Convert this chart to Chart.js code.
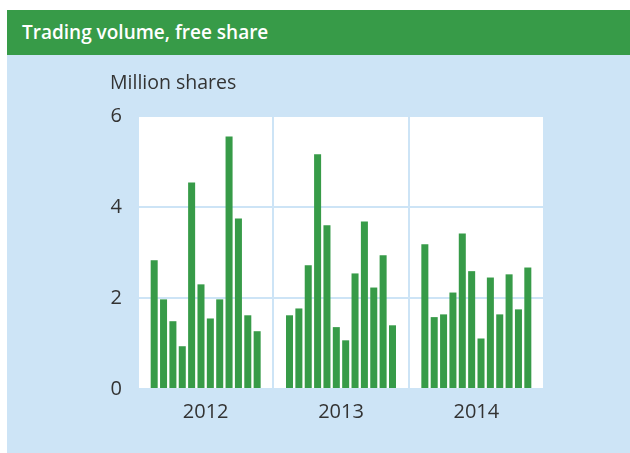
<!DOCTYPE html>
<html>
<head>
<meta charset="utf-8">
<script src="https://cdn.jsdelivr.net/npm/chart.js@4"></script>
<style>
  html, body { margin: 0; padding: 0; background: #fff; }
  #wrap { position: relative; width: 630px; height: 453px; overflow: hidden; }
  #head {
    position: absolute; left: 7px; top: 10px; width: 623px; height: 45px;
    background: #379b48; color: #fff;
    font-family: "Open Sans", sans-serif; font-weight: 600; font-size: 19px;
    line-height: 45px; padding-left: 15px; box-sizing: border-box;
  }
  #panel { position: absolute; left: 7px; top: 55px; width: 623px; height: 398px; background: #cde4f6; }
  #mycanvas { position: absolute; left: 0; top: 0; }
</style>
</head>
<body>
<div id="wrap">
  <div id="head">Trading volume, free share</div>
  <div id="panel"></div>
  <canvas id="mycanvas" width="630" height="453"></canvas>
</div>
<script>
var years = ['2012', '2013', '2014'];
var months = ['Jan', 'Feb', 'Mar', 'Apr', 'May', 'Jun', 'Jul', 'Aug', 'Sep', 'Oct', 'Nov', 'Dec'];
// million shares per month
var vol2012 = [2.83, 1.97, 1.49, 0.94, 4.54, 2.30, 1.55, 1.97, 5.55, 3.75, 1.62, 1.27];
var vol2013 = [1.62, 1.77, 2.72, 5.16, 3.60, 1.36, 1.07, 2.54, 3.68, 2.23, 2.94, 1.40];
var vol2014 = [3.18, 1.58, 1.64, 2.12, 3.42, 2.59, 1.11, 2.45, 1.64, 2.52, 1.75, 2.67];
var yTicks = [0, 2, 4, 6];

var green = '#379b48';
var lightBlue = '#cde4f6';

var datasets = months.map(function (m, i) {
    return {
        label: m,
        data: [vol2012[i], vol2013[i], vol2014[i]],
        backgroundColor: green,
        borderWidth: 0,
        categoryPercentage: 0.83,
        barPercentage: 0.75
    };
});

var plotBg = {
    id: 'plotBg',
    beforeDraw: function (chart) {
        var a = chart.chartArea;
        chart.ctx.save();
        chart.ctx.fillStyle = '#fff';
        chart.ctx.fillRect(a.left, a.top, a.right - a.left, a.bottom - a.top);
        chart.ctx.restore();
    }
};

var ctx = document.getElementById('mycanvas').getContext('2d');
var myChart = new Chart(ctx, {
    type: 'bar',
    data: { labels: years, datasets: datasets },
    plugins: [plotBg],
    options: {
        responsive: false,
        animation: false,
        layout: { padding: { left: 110, right: 86, top: 72, bottom: 0 } },
        plugins: {
            legend: { display: false },
            tooltip: { enabled: false },
            title: {
                display: true,
                text: 'Million shares',
                align: 'start',
                color: '#333',
                font: { family: 'Open Sans', size: 19.5, weight: 'normal', lineHeight: 1.2 },
                padding: { top: 0, bottom: 20.6 }
            }
        },
        scales: {
            x: {
                grid: { color: lightBlue, lineWidth: 2, drawTicks: false },
                border: { display: false },
                ticks: { color: '#333', padding: 11, font: { family: 'Open Sans', size: 20 } },
                afterFit: function (s) { s.height = 64; }
            },
            y: {
                min: 0,
                max: 6,
                afterBuildTicks: function (s) { s.ticks = yTicks.map(function (v) { return { value: v }; }); },
                grid: { color: lightBlue, lineWidth: 2, drawTicks: false },
                border: { display: false },
                ticks: { color: '#333', padding: 16, font: { family: 'Open Sans', size: 20 } },
                afterFit: function (s) { s.width = 28; }
            }
        }
    }
});
</script>
</body>
</html>
